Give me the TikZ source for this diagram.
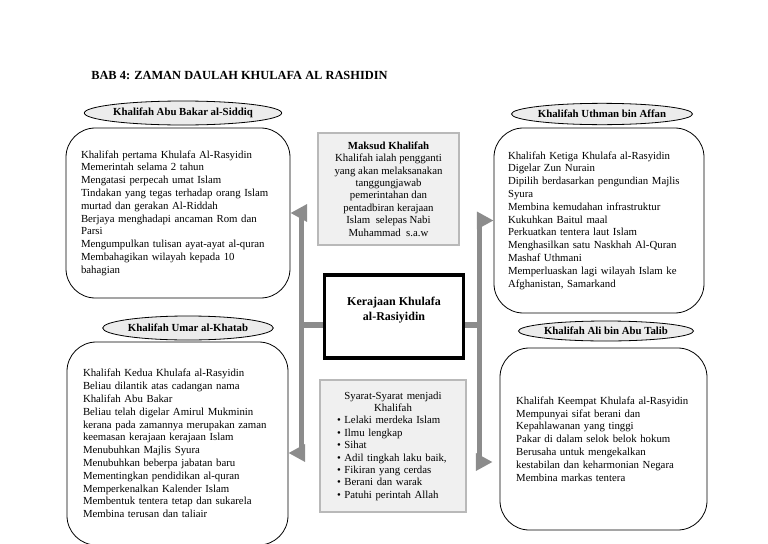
\documentclass[tikz,border=0pt]{standalone}
\usepackage{fontspec}
\setmainfont{Liberation Serif}
\usetikzlibrary{shapes,arrows.meta,positioning,calc}

\begin{document}
\begin{tikzpicture}[
    x=0.75pt, y=-0.75pt,
    khalifah/.style={rectangle, draw, rounded corners=22pt, line width=0.6pt, align=left, font=\fontsize{8.1}{9.6}\selectfont},
    tajuk/.style={ellipse, draw, line width=0.6pt, fill=gray!15, inner sep=0pt, minimum height=18pt, font=\fontsize{8.1}{9}\selectfont\bfseries},
    info/.style={rectangle, draw=gray!55, line width=1pt, fill=gray!12, font=\fontsize{8.1}{9.3}\selectfont},
    pautan/.style={draw=black!45, line width=3.8pt, -{Triangle[length=12.5pt,width=12.5pt]}}
]

\path[use as bounding box, clip] (0,0) rectangle (768,543);

\node[anchor=west, inner sep=0pt, font=\fontsize{9.3}{11}\selectfont\bfseries] (judul) at (91,75) {BAB 4: ZAMAN DAULAH KHULAFA AL RASHIDIN};

\node[khalifah, minimum width=168pt, minimum height=127.5pt, text width=145.5pt] (abubakar) at (178,213) {Khalifah pertama Khulafa Al-Rasyidin\\ Memerintah selama 2 tahun\\ Mengatasi perpecah umat Islam\\ Tindakan yang tegas terhadap orang Islam\\ murtad dan gerakan Al-Riddah\\ Berjaya menghadapi ancaman Rom dan\\ Parsi\\ Mengumpulkan tulisan ayat-ayat al-quran\\ Membahagikan wilayah kepada 10\\ bahagian};
\node[tajuk, minimum width=124.5pt] (lblAbubakar) at (183,113) {Khalifah Abu Bakar al-Siddiq};

\node[khalifah, minimum width=165.75pt, minimum height=152.25pt, text width=141.75pt] (umar) at (177.5,443.5) {Khalifah Kedua Khulafa al-Rasyidin\\ Beliau dilantik atas cadangan nama\\ Khalifah Abu Bakar\\ Beliau telah digelar Amirul Mukminin\\ kerana pada zamannya merupakan zaman\\ keemasan kerajaan kerajaan Islam\\ Menubuhkan Majlis Syura\\ Menubuhkan beberpa jabatan baru\\ Mementingkan pendidikan al-quran\\ Memperkenalkan Kalender Islam\\ Membentuk tentera tetap dan sukarela\\ Membina terusan dan taliair};
\node[tajuk, minimum width=128pt] (lblUmar) at (188,328) {Khalifah Umar al-Khatab};

\node[khalifah, minimum width=157.5pt, minimum height=138.75pt, text width=136.5pt] (uthman) at (599,220.5) {Khalifah Ketiga Khulafa al-Rasyidin\\ Digelar Zun Nurain\\ Dipilih berdasarkan pengundian Majlis\\ Syura\\ Membina kemudahan infrastruktur\\ Kukuhkan Baitul maal\\ Perkuatkan tentera laut Islam\\ Menghasilkan satu Naskhah Al-Quran\\ Mashaf Uthmani\\ Memperluaskan lagi wilayah Islam ke\\ Afghanistan, Samarkand};
\node[tajuk, minimum width=123pt, minimum height=16pt] (lblUthman) at (602,114) {Khalifah Uthman bin Affan};

\node[khalifah, minimum width=155.25pt, minimum height=136.5pt, text width=131pt] (ali) at (603.5,439) {Khalifah Keempat Khulafa al-Rasyidin\\ Mempunyai sifat berani dan\\ Kepahlawanan yang tinggi\\ Pakar di dalam selok belok hokum\\ Berusaha untuk mengekalkan\\ kestabilan dan keharmonian Negara\\ Membina markas tentera};
\node[tajuk, minimum width=125pt, minimum height=15pt] (lblAli) at (606,331) {Khalifah Ali bin Abu Talib};

\node[info, minimum width=105.75pt, minimum height=84pt, align=center] (maksud) at (388.5,189) {\textbf{Maksud Khalifah}\\ Khalifah ialah pengganti\\ yang akan melaksanakan\\ tanggungjawab\\ pemerintahan dan\\ pentadbiran kerajaan\\ Islam\ \ selepas Nabi\\ Muhammad\ \ s.a.w};

\node[rectangle, draw, line width=2.6pt, minimum width=104pt, minimum height=62.5pt, align=center, font=\fontsize{9}{11}\selectfont\bfseries] (kerajaan) at (394,316.5) {Kerajaan Khulafa\\ al-Rasiyidin\\[1pt]};

\node[info, minimum width=109.5pt, minimum height=99pt, text width=84pt, align=left] (syarat) at (393,446) {{\centering Syarat-Syarat menjadi\\ Khalifah\par}\textbullet\ Lelaki merdeka Islam\\ \textbullet\ Ilmu lengkap\\ \textbullet\ Sihat\\ \textbullet\ Adil tingkah laku baik,\\ \textbullet\ Fikiran yang cerdas\\ \textbullet\ Berani dan warak\\ \textbullet\ Patuhi perintah Allah};

\draw[pautan] ($(kerajaan.west)+(0,8.5)$) -- ++(-21.5,0) |- (abubakar.east);
\draw[pautan] ($(kerajaan.west)+(0,8.5)$) -- ++(-21.5,0) |- ($(umar.east)+(0,9.5)$);
\draw[pautan] ($(kerajaan.east)+(0,8.5)$) -- ++(14.75,0) |- (uthman.west);
\draw[pautan] ($(kerajaan.east)+(0,8.5)$) -- ++(14.75,0) |- ($(ali.west)+(-7,23)$);

\end{tikzpicture}
\end{document}
